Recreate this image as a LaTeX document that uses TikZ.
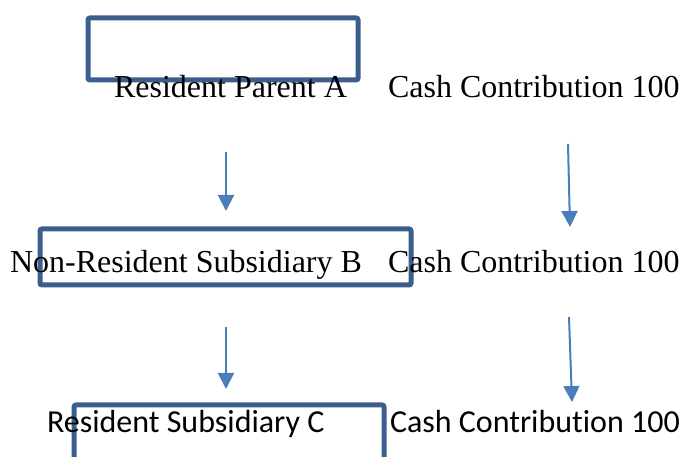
\documentclass[tikz,border=0pt]{standalone}
\usepackage{fontspec}
\setmainfont{Liberation Serif}
\newfontfamily\calfont[Ligatures=NoCommon]{Carlito}
\usetikzlibrary{arrows.meta}
\definecolor{boxblue}{HTML}{3B5E8C}
\definecolor{arrowblue}{HTML}{4A7EBB}
\tikzset{
  lbl/.style={anchor=base west, inner sep=0pt, outer sep=0pt, font=\fontsize{32}{38}\selectfont},
  lblc/.style={lbl, font=\calfont\fontsize{32}{38}\selectfont},
  bx/.style={draw=boxblue, line width=5pt, rounded corners=2pt},
  arr/.style={draw=arrowblue, line width=2pt, -{Triangle[width=16pt,length=16pt]}}
}
\begin{document}
\begin{tikzpicture}[x=1pt,y=-1pt]
\useasboundingbox (0,0) rectangle (681,457);
\clip (0,0) rectangle (681,457);
% boxes
\draw[bx] (88,18) rectangle (358,80);
\draw[bx] (40,229) rectangle (411,285);
\draw[bx] (74,405) rectangle (384,490);
% labels
\node[lbl] (pa) at (114,98) {Resident Parent A};
\node[lbl] (c1) at (388,98) {Cash Contribution 100};
\node[lbl] (sb) at (10,273) {Non-Resident Subsidiary B};
\node[lbl] (c2) at (388,273) {Cash Contribution 100};
\node[lblc] (sc) at (47,432) {Resident Subsidiary C};
\node[lblc] (c3) at (390,432) {Cash Contribution 100};
% arrow end points
\coordinate (a1s) at (226,152);
\coordinate (a1e) at (226,211);
\coordinate (b1s) at (568,144);
\coordinate (b1e) at (570,227);
\coordinate (a2s) at (226,327);
\coordinate (a2e) at (226,389);
\coordinate (b2s) at (569,317);
\coordinate (b2e) at (572,402);
\draw[arr] (a1s) -- (a1e);
\draw[arr] (b1s) -- (b1e);
\draw[arr] (a2s) -- (a2e);
\draw[arr] (b2s) -- (b2e);
\end{tikzpicture}
\end{document}
